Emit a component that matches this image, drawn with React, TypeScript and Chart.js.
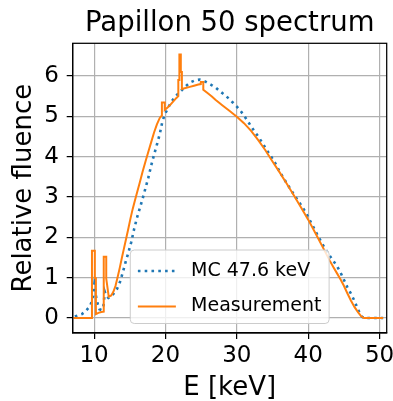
import React, { useEffect, useRef } from 'react';
import { Chart, registerables } from 'chart.js';

Chart.register(...registerables);

const FONT = '"DejaVu Sans", sans-serif';

const chartTitle = 'Papillon 50 spectrum';
const xLabel = 'E [keV]';
const yLabel = 'Relative fluence';
const xTicks = [10, 20, 30, 40, 50];
const yTicks = [0, 1, 2, 3, 4, 5, 6];

const mcLabel = 'MC 47.6 keV';
const mcEnergy = [7.3, 7.8, 8.3, 8.8, 9.2, 9.5, 9.75, 9.95, 10.05, 10.2, 10.45, 10.75, 11.05, 11.3, 11.5, 11.7, 12.0, 12.4, 12.8, 13.2, 13.6, 14.0, 14.4, 14.8, 15.2, 15.6, 16.0, 16.4, 16.8, 17.2, 17.6, 18.0, 18.4, 18.8, 19.2, 19.6, 20.0, 20.4, 20.8, 21.2, 21.6, 22.0, 22.4, 22.8, 23.2, 23.6, 24.0, 24.4, 24.8, 25.2, 25.6, 26.0, 26.5, 27.0, 27.5, 28.0, 28.5, 29.0, 29.5, 30.0, 30.5, 31.0, 31.5, 32.0, 32.5, 33.0, 33.5, 34.0, 34.5, 35.0, 35.5, 36.0, 36.5, 37.0, 37.5, 38.0, 38.5, 39.0, 39.5, 40.0, 40.5, 41.0, 41.5, 42.0, 42.5, 43.0, 43.5, 44.0, 44.5, 45.0, 45.5, 46.0, 46.5, 47.0, 47.5, 47.8, 48.5, 49.5, 50.5];
const mcFluence = [0.04, 0.07, 0.1, 0.17, 0.25, 0.33, 0.45, 0.7, 0.86, 0.6, 0.38, 0.22, 0.2, 0.28, 0.65, 0.55, 0.5, 0.53, 0.62, 0.72, 0.88, 1.12, 1.38, 1.62, 1.88, 2.2, 2.48, 2.72, 2.96, 3.22, 3.48, 3.78, 4.05, 4.3, 4.56, 4.9, 5.08, 5.22, 5.35, 5.45, 5.53, 5.6, 5.67, 5.74, 5.8, 5.85, 5.88, 5.9, 5.91, 5.89, 5.86, 5.82, 5.77, 5.72, 5.64, 5.57, 5.5, 5.42, 5.33, 5.24, 5.14, 5.02, 4.89, 4.75, 4.62, 4.5, 4.36, 4.22, 4.08, 3.95, 3.8, 3.63, 3.48, 3.34, 3.2, 3.06, 2.93, 2.8, 2.66, 2.5, 2.33, 2.16, 1.99, 1.83, 1.68, 1.55, 1.42, 1.3, 1.14, 0.95, 0.76, 0.6, 0.42, 0.2, 0.04, 0, 0, 0, 0];

const measLabel = 'Measurement';
const measEnergy = [7.1, 9.7, 9.7, 10.1, 10.1, 10.25, 10.25, 10.6, 11.0, 11.35, 11.35, 11.7, 11.7, 12.05, 12.4, 12.7, 13.0, 13.3, 13.6, 13.9, 14.2, 14.5, 14.8, 15.1, 15.4, 15.7, 16.0, 16.4, 16.8, 17.2, 17.6, 18.0, 18.4, 18.8, 19.2, 19.5, 19.5, 19.9, 19.9, 20.3, 20.7, 21.1, 21.5, 21.8, 21.8, 21.95, 21.95, 22.15, 22.15, 22.3, 22.3, 22.8, 23.4, 24.0, 24.6, 24.95, 24.95, 25.3, 25.3, 25.8, 26.5, 27.0, 28.0, 29.0, 30.0, 31.0, 32.0, 33.0, 34.0, 35.0, 36.0, 37.0, 38.0, 39.0, 40.0, 41.0, 42.0, 43.0, 43.5, 44.0, 44.5, 45.0, 45.5, 46.0, 46.5, 47.0, 47.4, 47.8, 50.5];
const measFluence = [0, 0, 1.67, 1.67, 0.99, 0.99, 0.1, 0.13, 0.15, 0.16, 1.52, 1.52, 0.98, 0.53, 0.56, 0.65, 0.8, 1.02, 1.25, 1.5, 1.74, 1.98, 2.22, 2.47, 2.7, 2.9, 3.1, 3.36, 3.63, 3.88, 4.12, 4.36, 4.6, 4.8, 4.96, 5.02, 5.34, 5.34, 5.16, 5.22, 5.29, 5.37, 5.45, 5.5, 5.9, 5.9, 6.53, 6.53, 6.1, 6.1, 5.68, 5.7, 5.73, 5.76, 5.79, 5.8, 5.85, 5.85, 5.66, 5.59, 5.49, 5.41, 5.27, 5.13, 4.99, 4.83, 4.64, 4.41, 4.16, 3.88, 3.61, 3.33, 3.04, 2.74, 2.44, 2.11, 1.77, 1.43, 1.27, 1.12, 0.97, 0.8, 0.61, 0.43, 0.27, 0.14, 0.05, 0, 0];

const BLUE = '#1f77b4';
const ORANGE = '#ff7f0e';
const DOT = [2.6, 4.2];

const centerTitlePlugin = {
  id: 'centerTitle',
  afterLayout(chart: any) {
    const t = chart.titleBlock;
    if (t) {
      t.left = chart.chartArea.left;
      t.right = chart.chartArea.right;
    }
  },
};

const framePlugin = {
  id: 'frameAndLegend',
  afterDatasetsDraw(chart: any) {
    const { ctx, chartArea } = chart;
    const { left, right, top, bottom } = chartArea;
    ctx.save();
    ctx.strokeStyle = '#000';
    ctx.lineWidth = 1.25;
    ctx.setLineDash([]);
    ctx.strokeRect(left, top, right - left, bottom - top);

    // legend (matplotlib style, lower center inside axes)
    const fs = 19;
    ctx.font = `${fs}px ${FONT}`;
    const items = chart.data.datasets.map((d: any) => ({
      label: d.label,
      color: d.borderColor,
      width: d.borderWidth,
      dash: d.borderDash || [],
    }));
    const textW = Math.max(...items.map((it: any) => ctx.measureText(it.label).width));
    const pad = 0.4 * fs;
    const handleLen = 2 * fs;
    const handleGap = 0.8 * fs;
    const rowGap = 35.5;
    const boxW = pad + handleLen + handleGap + textW + pad;
    const boxBottom = bottom - 9.5;
    const padBottom = 17;
    const padTop = 21;
    const boxH = padTop + rowGap * (items.length - 1) + padBottom;
    const boxLeft = (left + right) / 2 - boxW / 2;
    const boxTop = boxBottom - boxH;
    ctx.beginPath();
    (ctx as any).roundRect(boxLeft, boxTop, boxW, boxH, 4);
    ctx.fillStyle = 'rgba(255,255,255,0.8)';
    ctx.fill();
    ctx.strokeStyle = '#cccccc';
    ctx.lineWidth = 1;
    ctx.stroke();
    items.forEach((it: any, i: number) => {
      const cy = boxTop + padTop + i * rowGap;
      const hx = boxLeft + pad;
      ctx.beginPath();
      ctx.setLineDash(it.dash);
      ctx.strokeStyle = it.color;
      ctx.lineWidth = it.width;
      ctx.moveTo(hx, cy);
      ctx.lineTo(hx + handleLen, cy);
      ctx.stroke();
      ctx.setLineDash([]);
      ctx.fillStyle = '#000';
      ctx.textBaseline = 'middle';
      ctx.textAlign = 'left';
      ctx.fillText(it.label, hx + handleLen + handleGap, cy);
    });
    ctx.restore();
  },
};

export default function App() {
  const ref = useRef<HTMLCanvasElement>(null);
  useEffect(() => {
    const chart = new Chart(ref.current as HTMLCanvasElement, {
      type: 'line',
      data: {
        datasets: [
          {
            label: mcLabel,
            data: mcEnergy.map((x, i) => ({ x, y: mcFluence[i] })),
            borderColor: BLUE,
            backgroundColor: BLUE,
            borderWidth: 2.6,
            borderDash: DOT,
            pointRadius: 0,
            fill: false,
            tension: 0,
            order: 1,
          },
          {
            label: measLabel,
            data: measEnergy.map((x, i) => ({ x, y: measFluence[i] })),
            borderColor: ORANGE,
            backgroundColor: ORANGE,
            borderWidth: 2,
            pointRadius: 0,
            fill: false,
            tension: 0,
            borderJoinStyle: 'miter',
            order: 0,
          },
        ],
      },
      options: {
        responsive: false,
        animation: false,
        devicePixelRatio: 1,
        layout: { padding: { left: 0, right: 6.3, top: 0, bottom: 0 } },
        plugins: {
          legend: { display: false },
          tooltip: { enabled: false },
          title: {
            display: true,
            text: chartTitle,
            color: '#000',
            font: { family: FONT, size: 27.5, weight: 'normal', lineHeight: 1.2 },
            padding: { top: 7, bottom: 3.3 },
          },
        },
        scales: {
          x: {
            type: 'linear',
            min: 7,
            max: 51,
            afterBuildTicks: (s: any) => {
              s.ticks = xTicks.map((v) => ({ value: v }));
            },
            afterFit: (s: any) => {
              s.height = 68;
              s.paddingLeft = 0;
              s.paddingRight = 0;
            },
            grid: { color: '#b0b0b0', lineWidth: 1.2, tickColor: '#000', tickLength: 6, tickWidth: 1.25 },
            border: { display: true, color: '#000', width: 1.25 },
            ticks: { color: '#000', font: { family: FONT, size: 23 }, padding: 3.7, maxRotation: 0, autoSkip: false },
            title: {
              display: true,
              text: xLabel,
              color: '#000',
              font: { family: FONT, size: 26, lineHeight: 1 },
              padding: { top: 0, bottom: 0 },
            },
          },
          y: {
            type: 'linear',
            min: -0.37,
            max: 6.81,
            afterBuildTicks: (s: any) => {
              s.ticks = yTicks.map((v) => ({ value: v }));
            },
            afterFit: (s: any) => {
              s.width = 72.7;
              s.paddingTop = 0;
              s.paddingBottom = 0;
            },
            grid: { color: '#b0b0b0', lineWidth: 1.2, tickColor: '#000', tickLength: 6, tickWidth: 1.25 },
            border: { display: true, color: '#000', width: 1.25 },
            ticks: { color: '#000', font: { family: FONT, size: 23 }, padding: 7.7, autoSkip: false },
            title: {
              display: true,
              text: yLabel,
              color: '#000',
              font: { family: FONT, size: 26, lineHeight: 1 },
              padding: { top: 10.8, bottom: 0 },
            },
          },
        },
      },
      plugins: [centerTitlePlugin, framePlugin],
    } as any);
    return () => chart.destroy();
  }, []);
  return (
    <div style={{ position: 'absolute', left: 0, top: 0, width: 393, height: 401 }}>
      <canvas ref={ref} width={393} height={401} style={{ display: 'block' }} />
    </div>
  );
}
